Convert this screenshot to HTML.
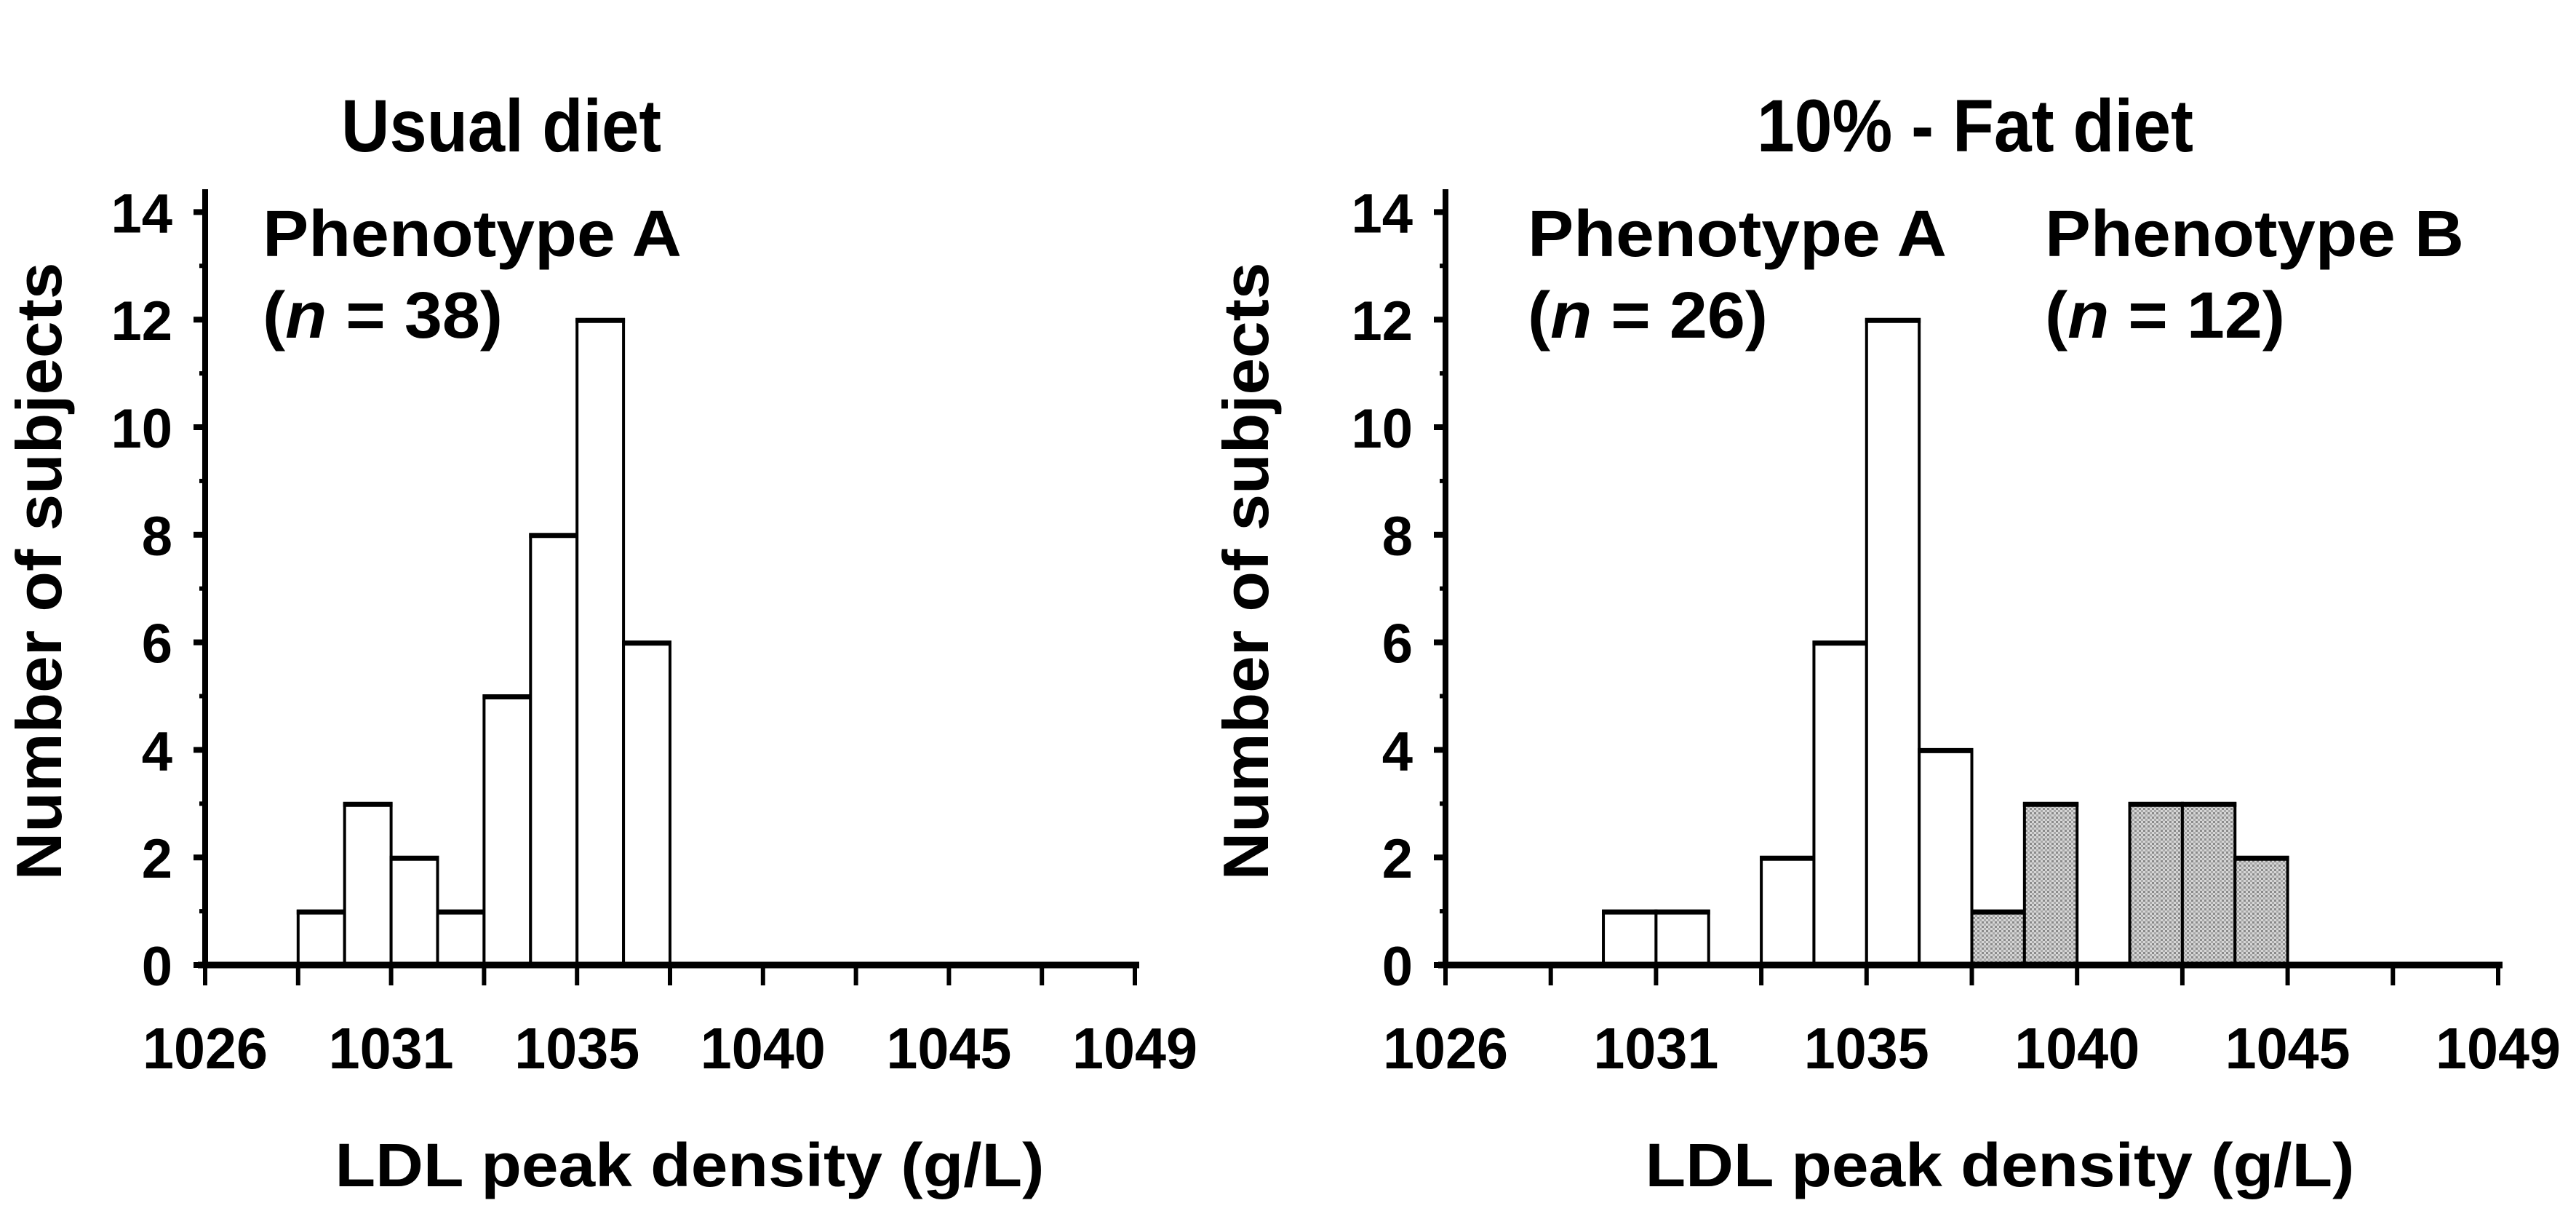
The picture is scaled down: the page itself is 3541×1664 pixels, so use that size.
<!DOCTYPE html>
<html><head><meta charset="utf-8"><style>
html,body{margin:0;padding:0;background:#fff}
svg{display:block}
text{font-family:"Liberation Sans",Arial,sans-serif;font-weight:bold;fill:#000}
</style></head><body>
<svg id="fig" width="3541" height="1664" viewBox="0 0 3541 1664" xmlns="http://www.w3.org/2000/svg">
<defs>
<pattern id="stip" width="6" height="6" patternUnits="userSpaceOnUse">
<rect width="6" height="6" fill="#d6d6d6"/>
<rect x="0" y="0" width="3" height="3" fill="#8a8a8a"/>
<rect x="3" y="3" width="3" height="3" fill="#a8a8a8"/>
</pattern>
</defs>
<g id="root"></g>
</svg>
<script>
// data
const xTickLabels = ["1026","1031","1035","1040","1045","1049"];
const yTickLabels = ["0","2","4","6","8","10","12","14"];
const usualCounts = [0,0,1,3,2,1,5,8,12,6,0,0,0,0,0,0,0,0,0,0];
const fatCountsA  = [0,0,0,1,1,0,2,6,12,4,0,0,0,0,0,0,0,0,0,0];
const fatCountsB  = [0,0,0,0,0,0,0,0,0,0,1,3,0,3,3,2,0,0,0,0];

const NS="http://www.w3.org/2000/svg";
const root=document.getElementById('root');
function mk(tag,attrs,parent){const e=document.createElementNS(NS,tag);for(const k in attrs)e.setAttribute(k,attrs[k]);(parent||root).appendChild(e);return e;}

function panel(p){
  const g=mk('g',{});
  
  
  const y0=1326, unit=73.9;
  const yS=v=>y0-v*unit;
  const tick=(p.x1-p.x0)/10;
  const xS=b=>p.x0+b*tick/2; // bin edge
  // title
  const t=mk('text',{x:p.titleX,y:208,'font-size':102,'text-anchor':'middle',textLength:p.titleW,lengthAdjust:'spacingAndGlyphs'},g);
  t.textContent=p.title;
  
  
  // bars
  p.series.forEach(s=>{
    s.counts.forEach((c,i)=>{
      if(!c)return;
      const r=mk('rect',{x:xS(i),y:yS(c),width:xS(i+1)-xS(i),height:yS(0)-yS(c),fill:s.fill,stroke:'#000','stroke-width':4},g);
      
      
      const tp=mk('line',{x1:xS(i)-2,x2:xS(i+1)+2,y1:yS(c)+1,y2:yS(c)+1,stroke:'#000','stroke-width':7},g);
      
      
    });
  });
  // y axis
  const ya=mk('line',{x1:p.x0,x2:p.x0,y1:260,y2:y0+4,stroke:'#000','stroke-width':8},g);
  
  
  for(let v=0;v<=14;v++){
    const major=v%2===0;
    const tk=mk('line',{x1:p.x0-(major?16:8),x2:p.x0,y1:yS(v),y2:yS(v),stroke:'#000','stroke-width':major?8:6},g);
    
    
  }
  yTickLabels.forEach((l,i)=>{
    const tx=mk('text',{x:p.x0-45,y:yS(+l)+28,'font-size':76,'text-anchor':'end'},g);
    tx.textContent=l;
    
    
  });
  // x axis
  const xa=mk('line',{x1:p.x0-10,x2:p.x1+6,y1:y0,y2:y0,stroke:'#000','stroke-width':9},g);
  
  
  for(let k=0;k<=10;k++){
    const tk=mk('line',{x1:p.x0+k*tick,x2:p.x0+k*tick,y1:y0,y2:1354,stroke:'#000','stroke-width':6},g);
    
    
  }
  xTickLabels.forEach((l,i)=>{
    const tx=mk('text',{x:p.x0+i*2*tick,y:1468,'font-size':80,'text-anchor':'middle',textLength:172,lengthAdjust:'spacingAndGlyphs'},g);
    tx.textContent=l;
    
    
  });
  // axis titles
  const xt=mk('text',{x:p.xTitleX,y:1630,'font-size':84,'text-anchor':'middle',textLength:975,lengthAdjust:'spacingAndGlyphs'},g);
  xt.textContent='LDL peak density (g/L)';
  
  
  const yt=mk('text',{x:0,y:0,'font-size':88,'text-anchor':'middle',textLength:849,lengthAdjust:'spacingAndGlyphs',transform:`translate(${p.yTitleX},785) rotate(-90)`},g);
  yt.textContent='Number of subjects';
  
  
  // annotations
  p.notes.forEach(n=>{
    const a=mk('text',{x:n.x,y:352,'font-size':90,textLength:576,lengthAdjust:'spacingAndGlyphs'},g);
    a.textContent=n.label;
    
    
    const b=mk('text',{x:n.x,y:464,'font-size':90,textLength:330,lengthAdjust:'spacingAndGlyphs'},g);
    
    
    b.appendChild(document.createTextNode('('));
    const it=mk('tspan',{'font-style':'italic'},b);
    it.textContent='n';
    b.appendChild(document.createTextNode(' = '+n.n+')'));
  });
}

panel({name:'usual-diet-panel',title:'Usual  diet',titleX:689,titleW:440,x0:282,x1:1560,xTitleX:948,yTitleX:84,
  series:[{name:'phenotype-a',counts:usualCounts,fill:'#fff'}],
  notes:[{x:361,label:'Phenotype A',n:38}]});
panel({name:'fat-diet-panel',title:'10% - Fat diet',titleX:2715,titleW:600,x0:1987,x1:3434,xTitleX:2749,yTitleX:1743,
  series:[{name:'phenotype-a',counts:fatCountsA,fill:'#fff'},{name:'phenotype-b',counts:fatCountsB,fill:'url(#stip)'}],
  notes:[{x:2100,label:'Phenotype A',n:26},{x:2811,label:'Phenotype B',n:12}]});
</script>
</body></html>
